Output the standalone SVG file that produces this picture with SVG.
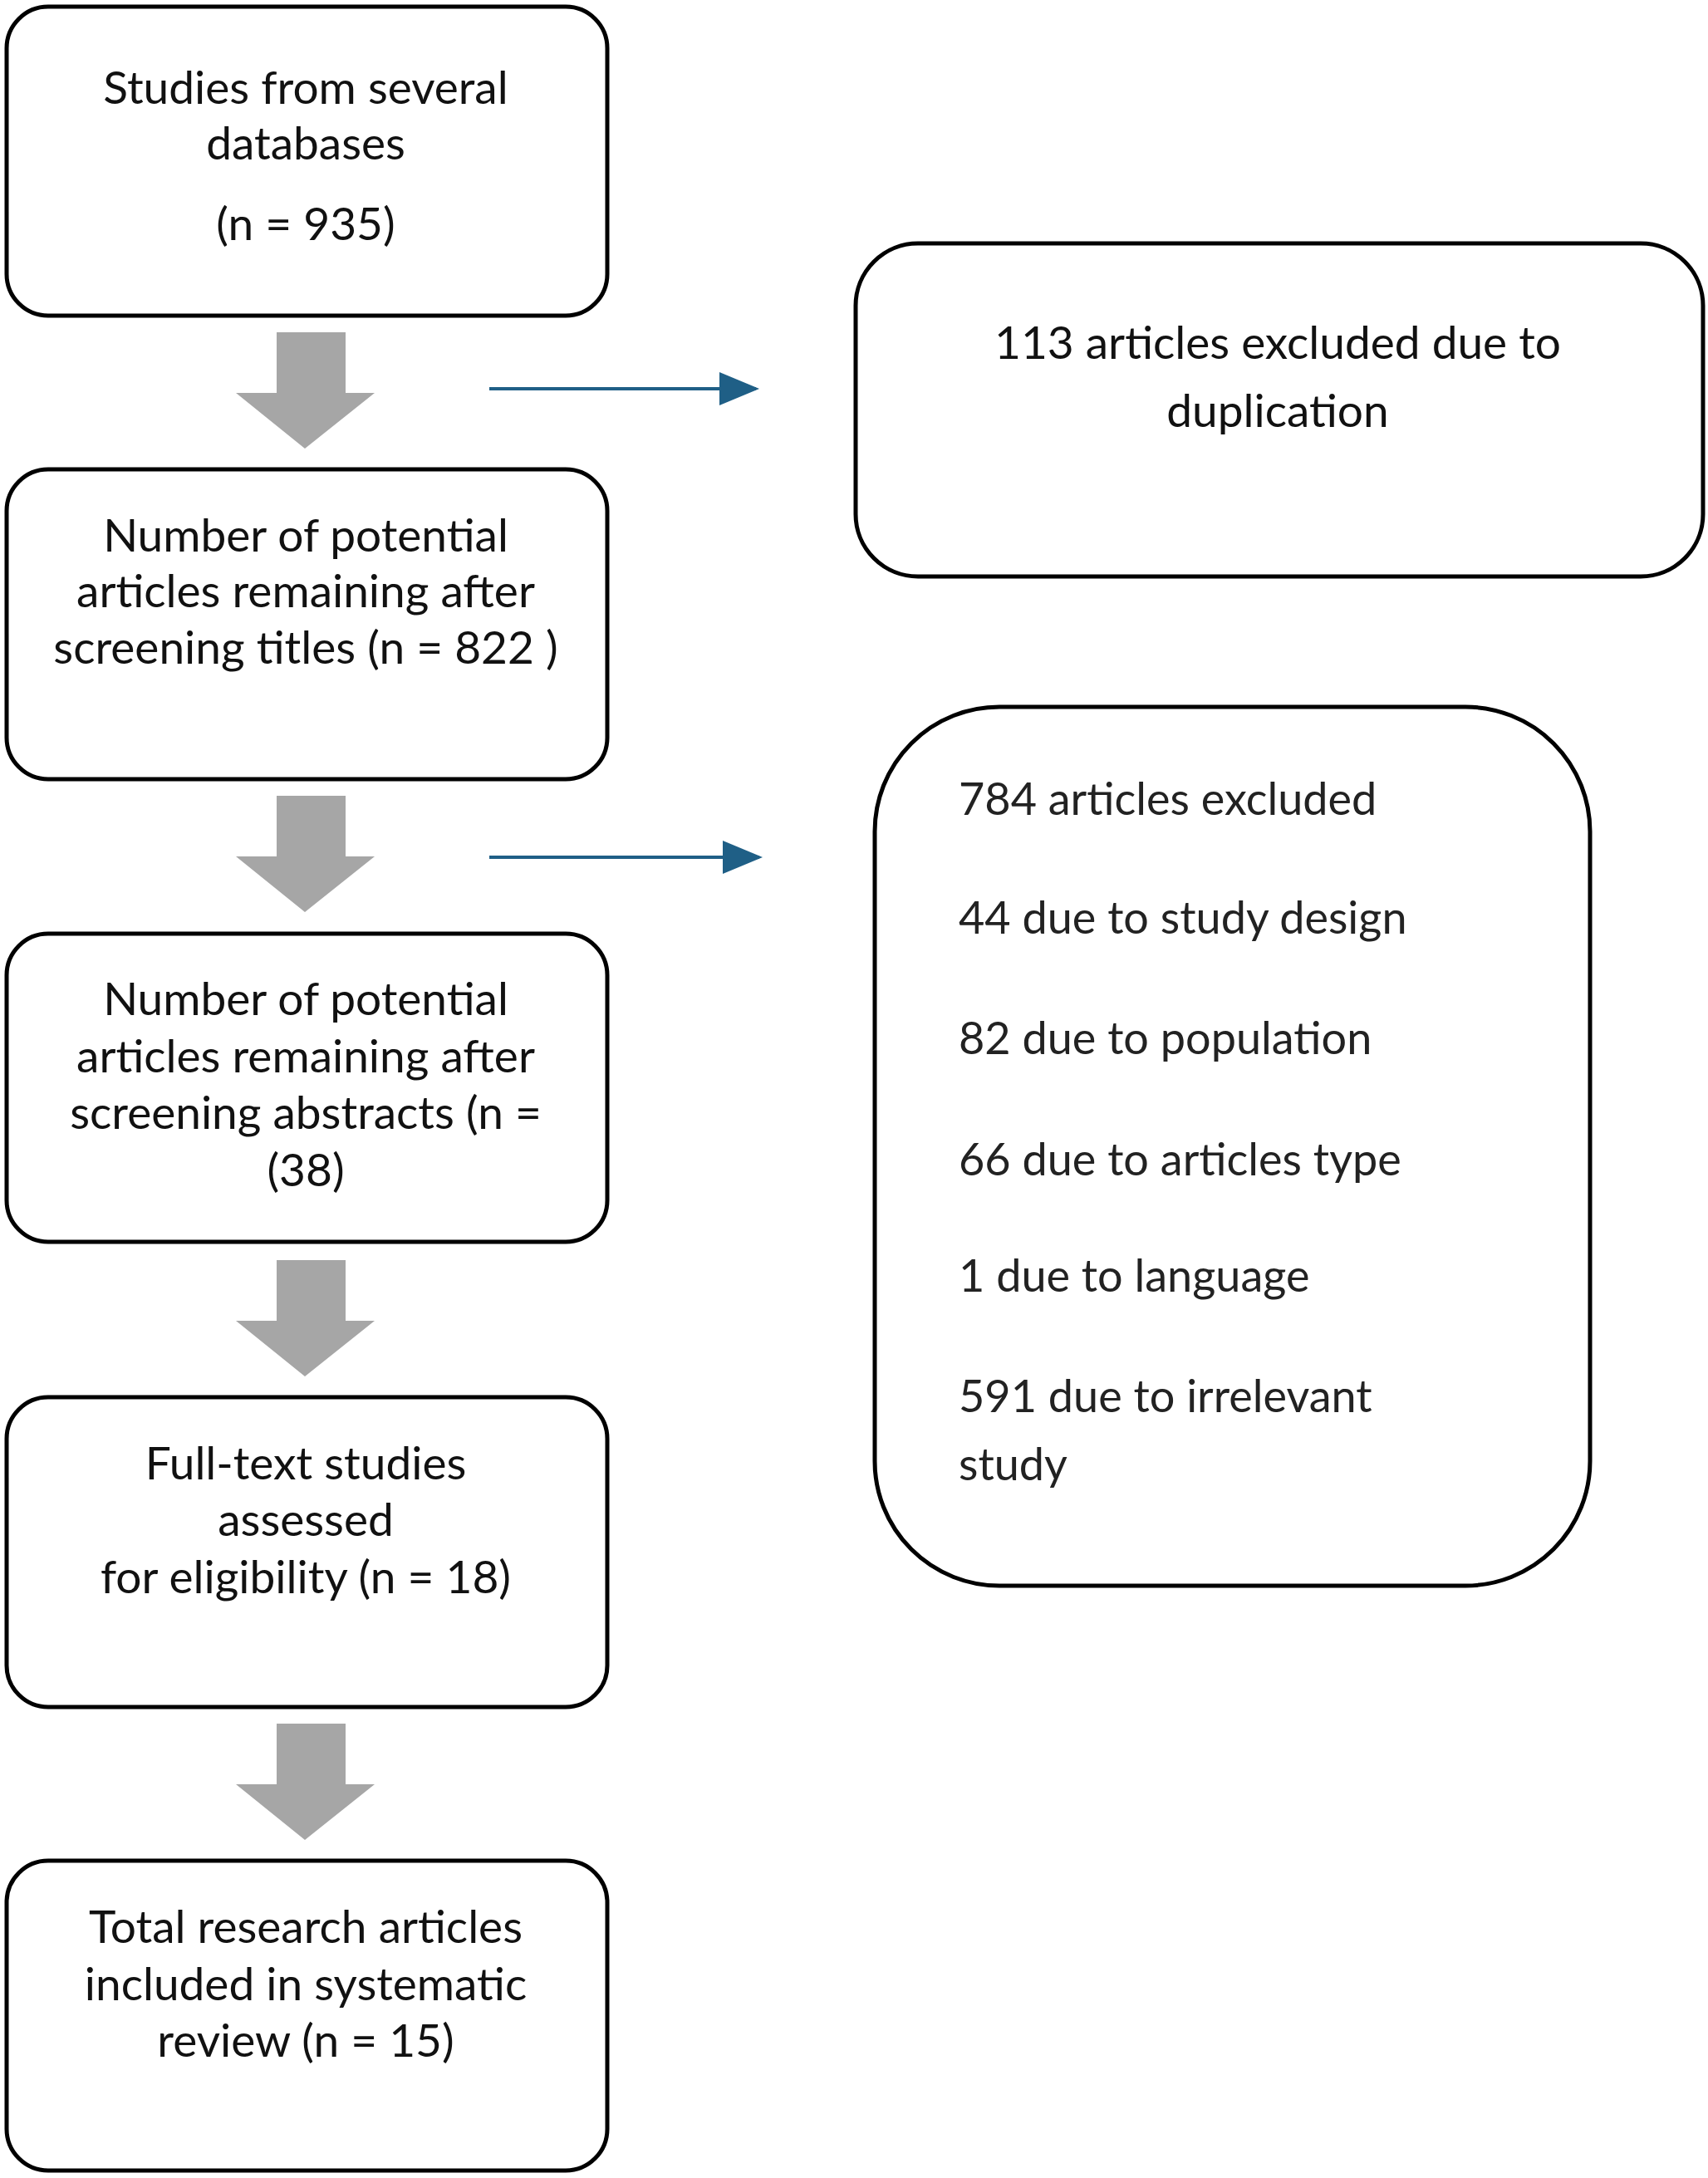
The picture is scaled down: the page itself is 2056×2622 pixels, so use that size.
<svg xmlns="http://www.w3.org/2000/svg" width="2056" height="2622" viewBox="0 0 2056 2622">
<style>
.box{fill:#fff;stroke:#000;stroke-width:5}
.t{font-family:Lato,"Liberation Sans",sans-serif;font-size:55px;fill:#111;text-anchor:middle}
.r{font-family:Lato,"Liberation Sans",sans-serif;font-size:54px;fill:#222}
.g{fill:#a6a6a6}
.b{stroke:#1f5f86;stroke-width:4;fill:none}
</style>
<defs><marker id="ah" markerWidth="12" markerHeight="10" refX="11" refY="5" orient="auto" markerUnits="strokeWidth"><path d="M0,0 L12,5 L0,10 z" fill="#1f5f86"/></marker></defs>
<rect width="2056" height="2622" fill="#fff"/>
<g id="n1"><rect class="box" x="8" y="8" width="723" height="372" rx="50"/>
<text class="t" x="368" y="125">Studies from several</text><text class="t" x="368" y="192">databases</text><text class="t" x="368" y="289">(n = 935)</text></g>
<g id="n2"><rect class="box" x="8" y="565" width="723" height="373" rx="50"/>
<text class="t" x="368" y="664">Number of potential</text><text class="t" x="368" y="731">articles remaining after</text><text class="t" x="368" y="799">screening titles (n = 822 )</text></g>
<g id="n3"><rect class="box" x="8" y="1124" width="723" height="371" rx="50"/>
<text class="t" x="368" y="1222">Number of potential</text><text class="t" x="368" y="1291">articles remaining after</text><text class="t" x="368" y="1359">screening abstracts (n =</text><text class="t" x="368" y="1428">(38)</text></g>
<g id="n4"><rect class="box" x="8" y="1682" width="723" height="373" rx="50"/>
<text class="t" x="368" y="1781">Full-text studies</text><text class="t" x="368" y="1849">assessed</text><text class="t" x="368" y="1918">for eligibility (n = 18)</text></g>
<g id="n5"><rect class="box" x="8" y="2240" width="723" height="373" rx="50"/>
<text class="t" x="368" y="2339">Total research articles</text><text class="t" x="368" y="2408">included in systematic</text><text class="t" x="368" y="2476">review (n = 15)</text></g>
<g id="n6"><rect class="box" x="1030" y="293" width="1020" height="401" rx="75"/>
<text class="t" x="1538" y="432" font-size="54">113 articles excluded due to</text><text class="t" x="1538" y="514" font-size="54">duplication</text></g>
<g id="n7"><rect class="box" x="1053" y="851" width="861" height="1058" rx="150"/>
<text class="r" x="1154" y="981">784 articles excluded</text>
<text class="r" x="1154" y="1124">44 due to study design</text>
<text class="r" x="1154" y="1269">82 due to population</text>
<text class="r" x="1154" y="1415">66 due to articles type</text>
<text class="r" x="1154" y="1555">1 due to language</text>
<text class="r" x="1154" y="1700">591 due to irrelevant</text>
<text class="r" x="1154" y="1782">study</text></g>
<g id="connectors">
<path class="g" d="M333,400 H416 V473 H451 L367,540 L284,473 H333 Z"/>
<path class="g" d="M333,958 H416 V1031 H451 L367,1098 L284,1031 H333 Z"/>
<path class="g" d="M333,1517 H416 V1590 H451 L367,1657 L284,1590 H333 Z"/>
<path class="g" d="M333,2075 H416 V2148 H451 L367,2215 L284,2148 H333 Z"/>
<line class="b" x1="589" y1="468" x2="910" y2="468" marker-end="url(#ah)"/>
<line class="b" x1="589" y1="1032" x2="914" y2="1032" marker-end="url(#ah)"/>
</g>
</svg>
